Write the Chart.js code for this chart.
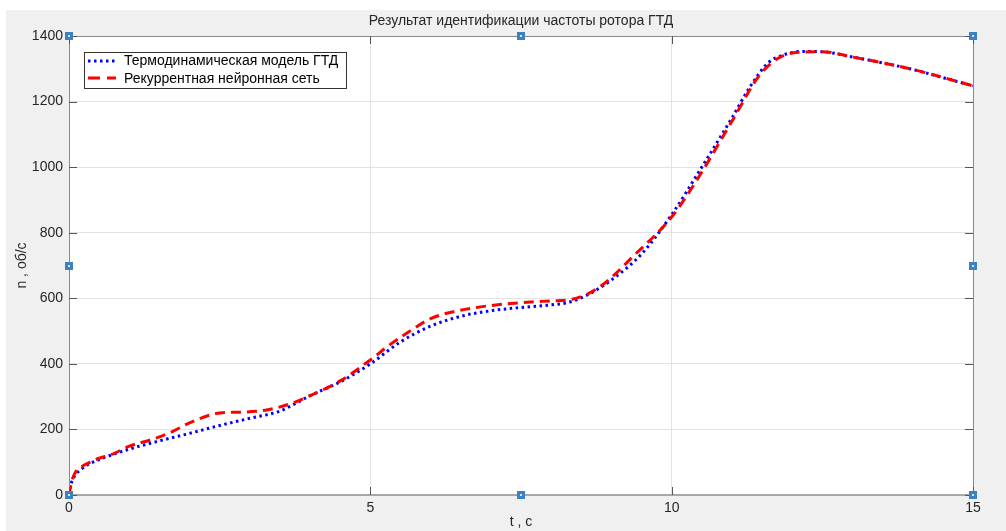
<!DOCTYPE html>
<html>
<head>
<meta charset="utf-8">
<script src="https://cdn.jsdelivr.net/npm/chart.js@4"></script>
<style>
  html, body { margin: 0; padding: 0; background: #fff; }
  #wrap { width: 1006px; height: 531px; }
</style>
</head>
<body>
<div id="wrap"><canvas id="chart" width="1006" height="531"></canvas></div>
<script>
/* ---------- data ---------- */
const chartTitle = "Результат идентификации частоты ротора ГТД";
const xLabel = "t , c";
const yLabel = "n , об/с";
const xTicks = [0, 5, 10, 15];
const yTicks = [0, 200, 400, 600, 800, 1000, 1200, 1400];

const modelName = "Термодинамическая модель ГТД";
const modelT = [0, 0.02, 0.05, 0.1, 0.2, 0.35, 0.5, 0.75, 1, 1.5, 2, 2.5, 3, 3.5, 4, 4.5, 5, 5.5, 6, 6.5, 7, 7.5, 8, 8.3, 8.6, 9, 9.5, 10, 10.5, 11, 11.3, 11.6, 11.9, 12.2, 12.5, 13, 13.5, 14, 14.5, 15];
const modelN = [0, 25, 42, 60, 78, 96, 108, 125, 140, 165, 188, 212, 234, 256, 303, 345, 400, 467, 515, 545, 562, 572, 580, 588, 610, 656, 735, 855, 1000, 1150, 1245, 1318, 1345, 1353, 1352, 1336, 1318, 1298, 1273, 1248];

const rnnName = "Рекуррентная нейронная сеть";
const rnnT = [0, 0.02, 0.05, 0.1, 0.2, 0.35, 0.5, 0.7, 1, 1.35, 1.7, 2, 2.5, 2.9, 3.3, 3.7, 4, 4.5, 5, 5.3, 5.7, 6, 6.4, 6.8, 7.2, 7.6, 8, 8.35, 8.8, 9.4, 10, 10.5, 11, 11.5, 12, 12.5, 13, 14, 15];
const rnnN = [0, 20, 45, 67, 85, 100, 112, 123, 149, 168, 192, 220, 250, 253, 260, 280, 303, 348, 412, 455, 505, 538, 560, 573, 582, 588, 592, 597, 634, 735, 848, 985, 1140, 1290, 1348, 1352, 1336, 1298, 1248];

/* ---------- styles ---------- */
const FONT = "'Liberation Sans', Arial, sans-serif";
const TEXT = "#262626";
const BLUE_DASH = [2.5, 3.5];
const RED_DASH = [10, 6];

function toPoints(xs, ys) {
  return xs.map((x, i) => ({ x: x, y: ys[i] }));
}

/* ---------- decorations (MATLAB style) ---------- */
const matlabFrame = {
  id: "matlabFrame",
  beforeDraw(chart) {
    const ctx = chart.ctx;
    const a = chart.chartArea;
    ctx.save();
    ctx.fillStyle = "#f0f0f0";
    ctx.fillRect(6, 10, chart.width - 6, chart.height - 10);
    ctx.fillStyle = "#ffffff";
    ctx.fillRect(a.left, a.top, a.right - a.left, a.bottom - a.top);
    ctx.restore();
  },
  afterDraw(chart) {
    const ctx = chart.ctx;
    const a = chart.chartArea;
    const xs = chart.scales.x, ys = chart.scales.y;
    ctx.save();

    // box
    ctx.strokeStyle = "#8a8a8a";
    ctx.lineWidth = 1;
    ctx.strokeRect(a.left + 0.5, a.top + 0.5, a.right - a.left, a.bottom - a.top);
    ctx.strokeStyle = "#a8a8a8";
    ctx.lineWidth = 2;
    ctx.beginPath();
    ctx.moveTo(a.left, a.bottom);
    ctx.lineTo(a.right, a.bottom);
    ctx.stroke();

    // inner ticks
    ctx.strokeStyle = "#555";
    ctx.lineWidth = 1;
    ctx.beginPath();
    yTicks.forEach(v => {
      const y = Math.round(ys.getPixelForValue(v)) + 0.5;
      ctx.moveTo(a.left, y); ctx.lineTo(a.left + 8, y);
      ctx.moveTo(a.right, y); ctx.lineTo(a.right - 8, y);
    });
    xTicks.forEach(v => {
      const x = Math.round(xs.getPixelForValue(v)) + 0.5;
      ctx.moveTo(x, a.top); ctx.lineTo(x, a.top + 8);
      ctx.moveTo(x, a.bottom); ctx.lineTo(x, a.bottom - 8);
    });
    ctx.stroke();

    // title
    ctx.fillStyle = TEXT;
    ctx.font = "14px " + FONT;
    ctx.textAlign = "center";
    ctx.textBaseline = "middle";
    ctx.fillText(chartTitle, (a.left + a.right) / 2, 21);

    // legend
    const lx = 84, ly = 52, lw = 262, lh = 36;
    ctx.fillStyle = "#fff";
    ctx.fillRect(lx, ly, lw, lh);
    ctx.strokeStyle = "#333";
    ctx.lineWidth = 1;
    ctx.strokeRect(lx + 0.5, ly + 0.5, lw, lh);

    ctx.lineWidth = 3;
    ctx.strokeStyle = "#0000ff";
    ctx.setLineDash(BLUE_DASH);
    ctx.beginPath(); ctx.moveTo(88, 61); ctx.lineTo(116, 61); ctx.stroke();
    ctx.strokeStyle = "#ff0000";
    ctx.setLineDash([12, 7]);
    ctx.beginPath(); ctx.moveTo(88, 78); ctx.lineTo(116, 78); ctx.stroke();
    ctx.setLineDash([]);

    ctx.fillStyle = "#000";
    ctx.textAlign = "left";
    ctx.font = "14px " + FONT;
    ctx.fillText(modelName, 124, 61);
    ctx.fillText(rnnName, 124, 79);

    // selection handles
    const mx = (a.left + a.right) / 2, my = (a.top + a.bottom) / 2;
    const handles = [[a.left, a.top], [mx, a.top], [a.right, a.top],
                     [a.left, my], [a.right, my],
                     [a.left, a.bottom], [mx, a.bottom], [a.right, a.bottom]];
    handles.forEach(h => {
      const x = Math.round(h[0]) - 3, y = Math.round(h[1]) - 3;
      ctx.fillStyle = "#d6e8f7";
      ctx.fillRect(x, y, 6, 6);
      ctx.strokeStyle = "#3c82c0";
      ctx.strokeRect(x + 0.5, y + 0.5, 5, 5);
    });
    ctx.restore();
  }
};

/* ---------- chart ---------- */
const ctx = document.getElementById("chart").getContext("2d");
new Chart(ctx, {
  type: "line",
  data: {
    datasets: [
      {
        label: modelName,
        data: toPoints(modelT, modelN),
        borderColor: "#0000ff",
        borderWidth: 3,
        borderDash: BLUE_DASH,
        pointRadius: 0,
        cubicInterpolationMode: "monotone",
        order: 1
      },
      {
        label: rnnName,
        data: toPoints(rnnT, rnnN),
        borderColor: "#ff0000",
        borderWidth: 3,
        borderDash: RED_DASH,
        pointRadius: 0,
        cubicInterpolationMode: "monotone",
        order: 0
      }
    ]
  },
  options: {
    responsive: false,
    animation: false,
    layout: { padding: { left: 0, right: 33, top: 36, bottom: 0 } },
    plugins: {
      legend: { display: false },
      title: { display: false },
      tooltip: { enabled: false }
    },
    scales: {
      x: {
        type: "linear",
        min: 0, max: 15,
        afterFit: s => { s.height = 36; },
        afterBuildTicks: s => { s.ticks = xTicks.map(v => ({ value: v })); },
        grid: { color: "#e3e3e3", drawTicks: false },
        border: { display: false },
        ticks: { color: TEXT, font: { family: FONT, size: 14 }, padding: 5, maxRotation: 0, callback: v => String(v) },
        title: { display: true, text: xLabel, color: TEXT, font: { family: FONT, size: 14 }, padding: { top: 0, bottom: 0 } }
      },
      y: {
        min: 0, max: 1400,
        afterFit: s => { s.width = 69; },
        afterBuildTicks: s => { s.ticks = yTicks.map(v => ({ value: v })); },
        grid: { color: "#e3e3e3", drawTicks: false },
        border: { display: false },
        ticks: { color: TEXT, font: { family: FONT, size: 14 }, padding: 6, callback: v => String(v) },
        title: { display: true, text: yLabel, color: TEXT, font: { family: FONT, size: 14 }, padding: { top: 14, bottom: 0 } }
      }
    }
  },
  plugins: [matlabFrame]
});
</script>
</body>
</html>
